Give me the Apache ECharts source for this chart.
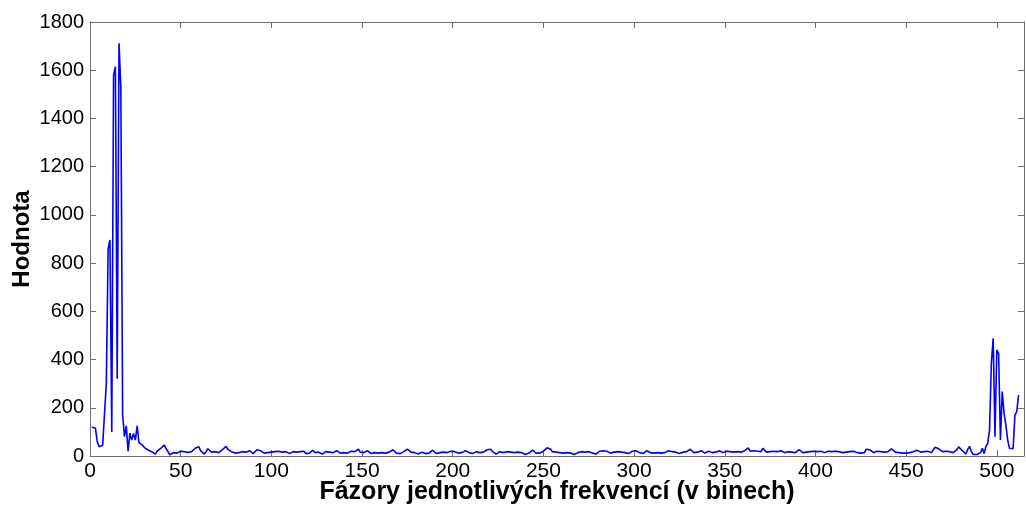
<!DOCTYPE html>
<html>
<head>
<meta charset="utf-8">
<script src="https://cdn.jsdelivr.net/npm/echarts@6/dist/echarts.min.js"></script>
<style>
  html, body { margin: 0; padding: 0; background: #fff; }
  #chart { width: 1026px; height: 510px; }
</style>
</head>
<body>
<div id="chart"></div>
<script>
// Spectrum magnitude per frequency bin (bins 1..512)
const binValues = [
  120,125,115,60,38,37,45,175,300,860,896,100,1580,1615,320,1712,1530,170,80,125,20,95,66,94,66,125,55,48,45,35,30,25,
  22,18,12,8,20,28,32,38,45,30,18,5,10,14,18,12,16,20,14,18,22,15,12,18,26,32,28,38,22,14,8,18,
  30,24,16,10,18,22,14,20,26,34,40,28,22,18,15,12,16,14,20,18,12,16,18,22,14,10,18,26,32,22,16,12,
  18,14,10,16,22,18,14,20,12,16,24,18,14,10,12,18,22,16,12,18,14,20,10,16,12,18,24,14,10,16,12,8,
  14,18,12,16,10,14,18,22,16,12,10,14,18,12,16,20,14,18,24,28,16,12,14,18,22,16,10,12,14,10,12,16,
  14,18,12,10,16,20,26,18,12,14,10,16,18,22,28,24,16,12,14,10,8,12,16,14,10,8,12,18,24,20,10,6,
  14,18,16,12,14,18,20,16,18,14,12,10,14,18,22,16,14,12,10,14,18,22,14,12,16,20,26,34,28,18,12,8,
  14,18,22,14,12,18,20,16,18,14,12,16,20,14,10,6,4,12,18,24,20,12,8,12,16,20,26,34,38,28,18,14,
  16,12,14,18,12,10,14,16,12,8,6,10,14,16,18,20,16,22,18,14,12,10,8,14,20,28,22,16,20,14,12,18,
  16,14,18,22,16,12,14,18,10,14,20,26,22,16,14,12,10,16,22,18,14,16,12,18,14,10,12,16,14,18,22,16,
  18,20,16,14,10,12,16,14,18,22,28,22,14,12,16,18,22,16,12,14,20,18,14,12,16,18,22,16,14,18,20,24,
  18,20,16,22,18,20,16,18,22,28,34,20,12,22,30,20,14,18,32,24,16,22,18,14,20,24,18,16,22,18,14,16,
  18,22,16,12,14,20,26,18,14,22,16,12,18,22,20,14,18,16,20,18,14,16,20,22,18,14,20,24,18,16,14,20,
  16,14,18,22,20,16,14,18,12,10,14,28,32,26,18,14,22,20,16,18,22,16,12,18,24,30,22,16,12,14,18,12,
  10,12,16,14,12,18,22,24,20,16,14,18,22,20,16,14,26,36,38,30,22,18,16,20,24,18,12,14,20,26,38,30,
  22,14,8,28,40,18,6,4,6,10,14,32,10,40,52,108,384,488,80,440,426,66,267,177,130,66,32,25,30,170,184,253
];
const binIndex = binValues.map((_, i) => i + 1);

const xTitle = 'Fázory jednotlivých frekvencí (v binech)';
const yTitle = 'Hodnota';
const xRange = [0, 515];
const yRange = [0, 1800];
const xStep = 50;
const yStep = 200;

const font = '"Liberation Sans", Arial, sans-serif';
const frameColor = '#6e6e6e';

const chart = echarts.init(document.getElementById('chart'), null, { renderer: 'canvas' });

const baseX = {
  type: 'value', min: xRange[0], max: xRange[1], interval: xStep,
  axisLine: { show: true, onZero: false, lineStyle: { color: frameColor, width: 1 } },
  axisTick: { show: true, inside: true, length: 6, lineStyle: { color: frameColor } },
  splitLine: { show: false }
};
const baseY = {
  type: 'value', min: yRange[0], max: yRange[1], interval: yStep,
  axisLine: { show: true, onZero: false, lineStyle: { color: frameColor, width: 1 } },
  axisTick: { show: true, inside: true, length: 6, lineStyle: { color: frameColor } },
  splitLine: { show: false }
};

chart.setOption({
  animation: false,
  backgroundColor: '#ffffff',
  grid: { left: 90, right: 2, top: 22, bottom: 54, containLabel: false, outerBoundsMode: 'none' },
  xAxis: [
    Object.assign({}, baseX, {
      position: 'bottom',
      name: xTitle, nameLocation: 'middle', nameGap: 24, nameMoveOverlap: false,
      nameTextStyle: { color: '#000', fontFamily: font, fontSize: 25, fontWeight: 'bold' },
      axisLabel: {
        color: '#000', fontFamily: font, fontSize: 21, margin: 5,
        formatter: v => (v % xStep === 0 ? String(v) : '')
      }
    }),
    Object.assign({}, baseX, { position: 'top', axisLabel: { show: false } })
  ],
  yAxis: [
    Object.assign({}, baseY, {
      position: 'left',
      name: yTitle, nameLocation: 'middle', nameGap: 56, nameMoveOverlap: false,
      nameTextStyle: { color: '#000', fontFamily: font, fontSize: 24, fontWeight: 'bold' },
      axisLabel: { color: '#000', fontFamily: font, fontSize: 20, margin: 6, formatter: v => String(v) }
    }),
    Object.assign({}, baseY, { position: 'right', axisLabel: { show: false } })
  ],
  series: [{
    type: 'line',
    data: binIndex.map((x, i) => [x, binValues[i]]),
    showSymbol: false,
    symbol: 'none',
    lineStyle: { color: '#0000ff', width: 1.6 },
    clip: true
  }]
});
</script>
</body>
</html>
